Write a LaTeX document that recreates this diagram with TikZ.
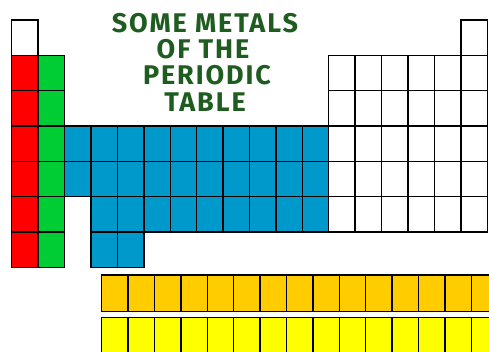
\documentclass[tikz,border=0pt]{standalone}
\usepackage{fontspec}
\newfontfamily\titlefont{Fira Sans}[LetterSpace=7]
\definecolor{alkali}{HTML}{FF0000}
\definecolor{earth}{HTML}{00CC33}
\definecolor{metal}{HTML}{0099CC}
\definecolor{lanth}{HTML}{FFCC00}
\definecolor{actin}{HTML}{FFFF00}
\definecolor{ink}{HTML}{1F5C1F}
\tikzset{
  cell/.style={draw=black, line width=1.4pt, minimum width=26.42pt,
    minimum height=35.33pt, inner sep=0pt, outer sep=0pt},
  fcell/.style={cell, minimum width=26.4pt, minimum height=36.7pt},
  headline/.style={inner sep=0pt, anchor=base, text=ink, text depth=0pt,
    font=\titlefont\bfseries\fontsize{27}{26}\selectfont}
}
\def\cw{26.42}
\def\ch{35.33}
\def\xo{11.7}
\def\yo{20}
\begin{document}
\begin{tikzpicture}[x=1pt,y=-1pt]
  \clip (0,0) rectangle (489,351);
  \fill[white] (0,0) rectangle (489,351);
  % title
  \node[headline] (title1) at (205,32) {SOME METALS};
  \node[headline] (title2) at (203,58) {OF THE};
  \node[headline] (title3) at (207,84.5) {PERIODIC};
  \node[headline] (title4) at (205,111) {TABLE};
  % group 1 and 2
  \node[cell, fill=white] (c1-1) at ({\xo+0.5*\cw},{\yo+0.5*\ch}) {};
  \foreach \r in {2,...,7} {
    \node[cell, fill=alkali] (c\r-1) at ({\xo+0.5*\cw},{\yo+(\r-0.5)*\ch}) {};
    \node[cell, fill=earth] (c\r-2) at ({\xo+1.5*\cw},{\yo+(\r-0.5)*\ch}) {};
  }
  % transition metals
  \foreach \k in {3,...,12}
    \foreach \r in {4,5}
      \node[cell, fill=metal] (c\r-\k) at ({\xo+(\k-0.5)*\cw},{\yo+(\r-0.5)*\ch}) {};
  \foreach \k in {4,...,12}
    \node[cell, fill=metal] (c6-\k) at ({\xo+(\k-0.5)*\cw},{\yo+5.5*\ch}) {};
  \foreach \k in {4,5}
    \node[cell, fill=metal] (c7-\k) at ({\xo+(\k-0.5)*\cw},{\yo+6.5*\ch}) {};
  % p block
  \foreach \k in {13,...,18}
    \foreach \r in {2,...,6}
      \node[cell, fill=white] (c\r-\k) at ({\xo+(\k-0.5)*\cw},{\yo+(\r-0.5)*\ch}) {};
  \node[cell, fill=white] (c1-18) at ({\xo+17.5*\cw},{\yo+0.5*\ch}) {};
  % f block
  \foreach \k in {1,...,15} {
    \node[fcell, fill=lanth] (la\k) at ({101.7+(\k-0.5)*26.4},293.3) {};
    \node[fcell, fill=actin] (ac\k) at ({101.7+(\k-0.5)*26.4},335.6) {};
  }
\end{tikzpicture}
\end{document}
